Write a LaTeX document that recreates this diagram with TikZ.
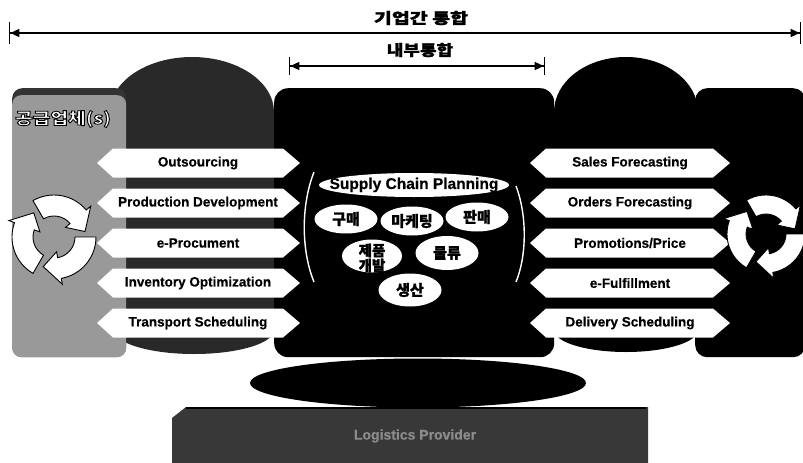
\documentclass[tikz,border=0pt]{standalone}
\usepackage{fontspec}
\usepackage{graphicx}
\setmainfont{Liberation Sans}[BoldFeatures={FakeBold=0.5}]
\newfontfamily\kr{Noto Sans CJK KR}[BoldFeatures={FakeBold=1.2}]
\newfontfamily\krplain{Noto Sans CJK KR}
\usetikzlibrary{arrows.meta,shapes.geometric}

% three clockwise arrows bent into a ring: centre, outer radius, inner radius, style
\newcommand{\cyclemark}[4]{%
  \begin{scope}[shift={#1}]
    \foreach \a in {0,120,240}{
      \path[#4] (\a:#2) arc[start angle=\a, end angle=\a+80, radius=#2]
        -- ({\a+80}:{#2+6}) -- ({\a+110}:{(#2+#3)/2}) -- ({\a+80}:{#3-6})
        -- ({\a+80}:#3) arc[start angle=\a+80, end angle=\a, radius=#3] -- cycle;
    }
  \end{scope}}

% white letters with a black outline (fill, then stroke)
\newcommand{\outlined}[1]{%
  \special{pdf:literal direct 2 Tr 0.8 w 0 0 0 RG}#1\special{pdf:literal direct 0 Tr}}

\begin{document}
\begin{tikzpicture}[x=1pt,y=-1pt,
  krhead/.style={font=\kr\bfseries\fontsize{15}{17}\selectfont},
  krsmall/.style={font=\kr\bfseries\fontsize{15}{15.5}\selectfont, align=center},
  armlabel/.style={font=\bfseries\fontsize{13.5}{15}\selectfont},
  oval/.style={ellipse, fill=white, inner sep=0pt},
  chevron/.style={fill=white},
  span/.style={line width=1.3pt,
    {Bar[width=22pt]Triangle[length=9pt,width=8pt]}-{Triangle[length=9pt,width=8pt]Bar[width=22pt]}},
  innerspan/.style={line width=1.3pt,
    {Bar[width=18pt]Triangle[length=9pt,width=8pt]}-{Triangle[length=9pt,width=8pt]Bar[width=18pt]}}]
\useasboundingbox (0,0) rectangle (803,463);
\fill[white] (0,0) rectangle (803,463);

% ---- integration spans
\node[krhead] (extlabel) at (421,18) {\scalebox{1.3}[1]{기업간 통합}};
\coordinate (extL) at (9,33);
\coordinate (extR) at (801,33);
\draw[span] (extL) -- (extR);

\node[krhead] (intlabel) at (420,50) {\scalebox{1.2}[1]{내부통합}};
\coordinate (intL) at (289,66);
\coordinate (intR) at (545,66);
\draw[innerspan] (intL) -- (intR);

% ---- supplier column (dome top, rounded foot)
\fill[black!84] (110,112) arc[start angle=180, end angle=360, x radius=82, y radius=55]
  -- (274,330) arc[start angle=0, end angle=180, x radius=80, y radius=24] -- cycle;

% ---- customer column
\fill[black] (554,112) arc[start angle=180, end angle=360, x radius=72, y radius=55]
  -- (698,330) arc[start angle=0, end angle=180, x radius=72, y radius=22] -- cycle;

% ---- customer block on the right
\node[fill=black, rounded corners=12pt, minimum width=110pt, minimum height=269pt,
  inner sep=0pt, anchor=north west] (custbox) at (695,88) {};

% ---- enterprise block in the middle
\node[fill=black, rounded corners=14pt, minimum width=280pt, minimum height=269pt,
  inner sep=0pt, anchor=north west] (core) at (274,88) {};
\draw[white, line width=1.4pt] (314,172) .. controls (301,205) and (301,250) .. (314,282);
\draw[white, line width=1.4pt] (516,186) .. controls (527,215) and (527,255) .. (516,282);

% ---- supplier block on the left
\node[fill=black!80, rounded corners=10pt, minimum width=114pt, minimum height=269pt,
  inner sep=0pt, anchor=north west] (suppbox) at (12,88) {};
\node[fill=black!40, rounded corners=9pt, minimum width=114pt, minimum height=262pt,
  inner sep=0pt, anchor=north west] (suppface) at (12,95) {};

% ---- supplier-side processes
\foreach \yc/\txt/\nm in {163/Outsourcing/sA, 203/Production Development/sB,
    243/e-Procument/sC, 283/Inventory Optimization/sD, 323/Transport Scheduling/sE}{
  \fill[chevron] (97,\yc) -- (113,\yc-14.5) -- (283,\yc-14.5) -- (300,\yc)
    -- (283,\yc+14.5) -- (113,\yc+14.5) -- cycle;
  \node[armlabel] (\nm) at (198,\yc) {\txt};
}

% ---- customer-side processes
\foreach \yc/\txt/\nm in {163/Sales Forecasting/cA, 203/Orders Forecasting/cB,
    243/Promotions\slash Price/cC, 283/e-Fulfillment/cD, 323/Delivery Scheduling/cE}{
  \fill[chevron] (530,\yc) -- (546,\yc-14.5) -- (713,\yc-14.5) -- (730,\yc)
    -- (713,\yc+14.5) -- (546,\yc+14.5) -- cycle;
  \node[armlabel] (\nm) at (630,\yc) {\txt};
}

% ---- cycle marks
\cyclemark{(54,237)}{42}{21}{fill=white, draw=black, line width=0.9pt}
\cyclemark{(766,234)}{39}{20}{fill=white, draw=black, line width=0.9pt}

% ---- planning ovals
\node[oval, minimum width=190pt, minimum height=24pt] (scp) at (414,185) {};
\node[font=\bfseries\fontsize{15.5}{18}\selectfont] (scptext) at (scp) {Supply Chain Planning};

\node[oval, minimum width=63pt, minimum height=29pt] (buy) at (346,219) {};
\node[krsmall] at (buy) {구매};
\node[oval, minimum width=63pt, minimum height=29pt] (mkt) at (412,221) {};
\node[krsmall] at (mkt) {마케팅};
\node[oval, minimum width=63pt, minimum height=29pt] (sell) at (477,217) {};
\node[krsmall] at (sell) {판매};
\node[oval, minimum width=60pt, minimum height=33pt] (dev) at (372,256) {};
\node[krsmall, font=\kr\bfseries\fontsize{14.5}{15}\selectfont] at (372,258) {제품\\개발};
\node[oval, minimum width=63pt, minimum height=34pt] (logi) at (447,253) {};
\node[krsmall] at (logi) {물류};
\node[oval, minimum width=63pt, minimum height=33pt] (prod) at (410,290) {};
\node[krsmall] at (prod) {생산};

% ---- logistics base
\fill[black!78] (172,418) -- (186,407) -- (648,407) -- (648,463) -- (172,463) -- cycle;
\draw[black, line width=2pt] (186,408) -- (646,408);
\node[font=\bfseries\fontsize{14}{16}\selectfont, text=black!45] (lsp) at (415,436) {Logistics Provider};
\node[ellipse, fill=black, inner sep=0pt, minimum width=336pt, minimum height=49pt] (platform) at (418,383) {};

% ---- heading of the supplier block (outlined letters, set last)
\node[font=\krplain\bfseries\fontsize{16}{18}\selectfont, text=white] (supplabel) at (63,119)
  {\outlined{\scalebox{1.2}[1]{공급업체(s)}}};
\end{tikzpicture}
\end{document}
